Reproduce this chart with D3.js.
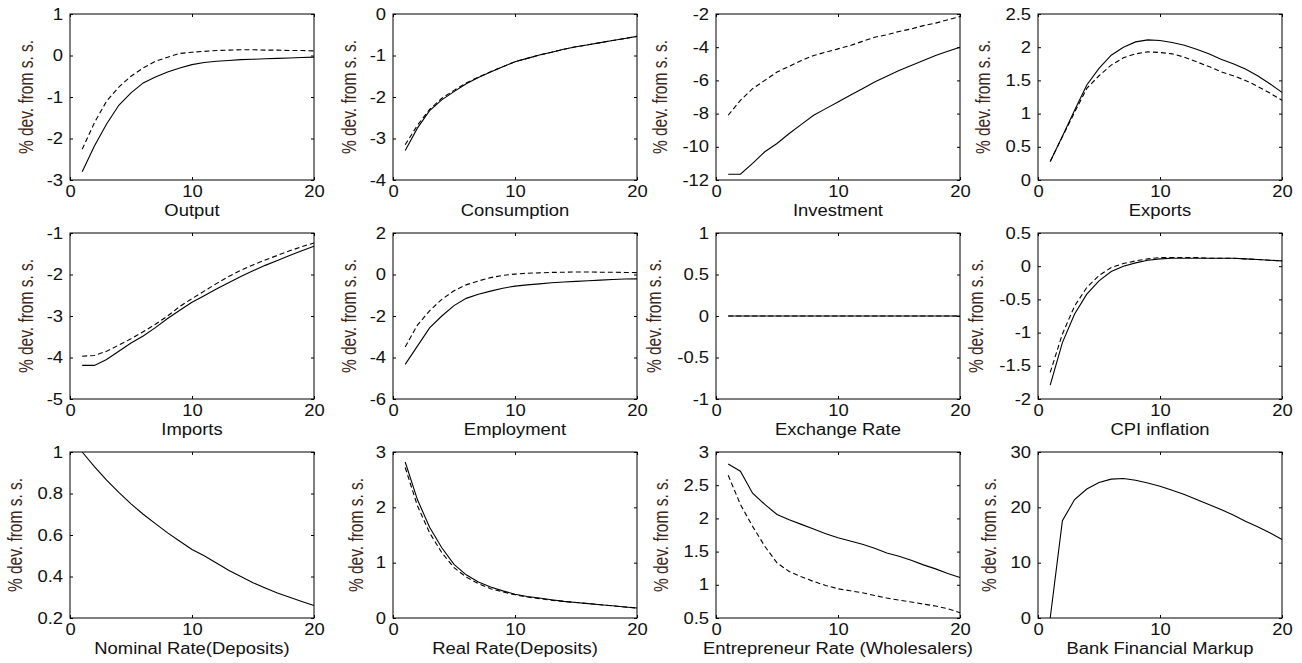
<!DOCTYPE html>
<html>
<head>
<meta charset="utf-8">
<script src="https://cdn.jsdelivr.net/npm/d3@7"></script>
<style>
  body { margin: 0; background: #fff; }
  svg { display: block; }
  text { font-family: "Liberation Sans", Arial, sans-serif; }
</style>
</head>
<body>
<div id="chart"></div>
<script>
const periods = [1, 2, 3, 4, 5, 6, 7, 8, 9, 10, 11, 12, 13, 14, 15, 16, 17, 18, 19, 20];
const xTicks = [0, 10, 20];
const yLabel = "% dev. from s. s.";

const outputSolid = [-2.8, -2.18, -1.65, -1.2, -0.9, -0.66, -0.52, -0.4, -0.3, -0.22, -0.17, -0.14, -0.12, -0.1, -0.09, -0.08, -0.07, -0.06, -0.05, -0.04];
const outputDashed = [-2.26, -1.62, -1.1, -0.76, -0.5, -0.3, -0.14, -0.04, 0.05, 0.08, 0.1, 0.12, 0.13, 0.14, 0.14, 0.13, 0.13, 0.12, 0.12, 0.11];
const outputTicks = [-3, -2, -1, 0, 1];

const consumptionSolid = [-3.29, -2.75, -2.33, -2.07, -1.87, -1.68, -1.53, -1.4, -1.27, -1.15, -1.07, -0.99, -0.92, -0.85, -0.79, -0.74, -0.69, -0.64, -0.59, -0.54];
const consumptionDashed = [-3.15, -2.68, -2.3, -2.03, -1.84, -1.66, -1.52, -1.39, -1.27, -1.15, -1.07, -0.99, -0.92, -0.85, -0.79, -0.74, -0.69, -0.64, -0.59, -0.54];
const consumptionTicks = [-4, -3, -2, -1, 0];

const investmentSolid = [-11.65, -11.65, -11.0, -10.3, -9.8, -9.2, -8.65, -8.1, -7.7, -7.3, -6.9, -6.5, -6.1, -5.75, -5.4, -5.1, -4.8, -4.5, -4.25, -4.0];
const investmentDashed = [-8.1, -7.2, -6.5, -6.0, -5.5, -5.15, -4.8, -4.5, -4.3, -4.1, -3.9, -3.65, -3.4, -3.25, -3.05, -2.9, -2.7, -2.55, -2.35, -2.15];
const investmentTicks = [-12, -10, -8, -6, -4, -2];

const exportsSolid = [0.28, 0.66, 1.05, 1.43, 1.68, 1.88, 2.0, 2.08, 2.11, 2.1, 2.07, 2.03, 1.97, 1.9, 1.82, 1.75, 1.67, 1.57, 1.45, 1.32];
const exportsDashed = [0.28, 0.65, 1.02, 1.38, 1.57, 1.73, 1.84, 1.9, 1.93, 1.92, 1.9, 1.85, 1.78, 1.71, 1.63, 1.57, 1.5, 1.41, 1.31, 1.2];
const exportsTicks = [0, 0.5, 1, 1.5, 2, 2.5];

const importsSolid = [-4.19, -4.19, -4.05, -3.85, -3.65, -3.48, -3.28, -3.06, -2.86, -2.67, -2.51, -2.35, -2.2, -2.05, -1.91, -1.78, -1.66, -1.54, -1.43, -1.32];
const importsDashed = [-3.97, -3.95, -3.85, -3.7, -3.55, -3.38, -3.2, -3.0, -2.77, -2.58, -2.4, -2.22, -2.05, -1.9, -1.77, -1.65, -1.54, -1.43, -1.33, -1.24];
const importsTicks = [-5, -4, -3, -2, -1];

const employmentSolid = [-4.33, -3.45, -2.57, -2.0, -1.5, -1.15, -0.95, -0.8, -0.66, -0.56, -0.5, -0.45, -0.4, -0.36, -0.33, -0.3, -0.27, -0.24, -0.22, -0.21];
const employmentDashed = [-3.49, -2.44, -1.75, -1.2, -0.78, -0.5, -0.31, -0.15, -0.04, 0.02, 0.06, 0.08, 0.1, 0.11, 0.12, 0.12, 0.11, 0.11, 0.1, 0.09];
const employmentTicks = [-6, -4, -2, 0, 2];

const exchangeSolid = [0, 0, 0, 0, 0, 0, 0, 0, 0, 0, 0, 0, 0, 0, 0, 0, 0, 0, 0, 0];
const exchangeDashed = [0, 0, 0, 0, 0, 0, 0, 0, 0, 0, 0, 0, 0, 0, 0, 0, 0, 0, 0, 0];
const exchangeTicks = [-1, -0.5, 0, 0.5, 1];

const cpiSolid = [-1.79, -1.15, -0.72, -0.42, -0.22, -0.08, 0.0, 0.05, 0.09, 0.11, 0.12, 0.12, 0.12, 0.12, 0.12, 0.12, 0.11, 0.1, 0.09, 0.08];
const cpiDashed = [-1.6, -1.02, -0.6, -0.32, -0.14, -0.02, 0.04, 0.08, 0.11, 0.13, 0.13, 0.13, 0.13, 0.12, 0.12, 0.12, 0.11, 0.1, 0.09, 0.08];
const cpiTicks = [-2, -1.5, -1, -0.5, 0, 0.5];

const nominalSolid = [1.0, 0.93, 0.865, 0.805, 0.75, 0.7, 0.655, 0.61, 0.57, 0.53, 0.5, 0.465, 0.43, 0.4, 0.37, 0.345, 0.32, 0.3, 0.28, 0.26];
const nominalTicks = [0.2, 0.4, 0.6, 0.8, 1];

const realSolid = [2.82, 2.14, 1.64, 1.27, 0.97, 0.78, 0.65, 0.56, 0.49, 0.43, 0.39, 0.36, 0.33, 0.3, 0.28, 0.26, 0.24, 0.22, 0.2, 0.18];
const realDashed = [2.72, 2.03, 1.54, 1.18, 0.91, 0.74, 0.62, 0.53, 0.47, 0.42, 0.38, 0.35, 0.32, 0.3, 0.28, 0.26, 0.24, 0.22, 0.2, 0.18];
const realTicks = [0, 1, 2, 3];

const entrepreneurSolid = [2.82, 2.71, 2.38, 2.21, 2.06, 1.98, 1.91, 1.84, 1.77, 1.71, 1.66, 1.61, 1.55, 1.48, 1.43, 1.37, 1.3, 1.24, 1.17, 1.11];
const entrepreneurDashed = [2.65, 2.21, 1.88, 1.58, 1.33, 1.2, 1.12, 1.05, 0.99, 0.94, 0.91, 0.88, 0.84, 0.8, 0.77, 0.74, 0.71, 0.68, 0.64, 0.58];
const entrepreneurTicks = [0.5, 1, 1.5, 2, 2.5, 3];

const markupSolid = [0, 17.6, 21.4, 23.3, 24.5, 25.1, 25.2, 24.9, 24.4, 23.8, 23.1, 22.3, 21.4, 20.5, 19.6, 18.6, 17.5, 16.5, 15.4, 14.2];
const markupTicks = [0, 10, 20, 30];

const panels = [
    {title: "Output", solid: outputSolid, dashed: outputDashed, ticks: outputTicks},
    {title: "Consumption", solid: consumptionSolid, dashed: consumptionDashed, ticks: consumptionTicks},
    {title: "Investment", solid: investmentSolid, dashed: investmentDashed, ticks: investmentTicks},
    {title: "Exports", solid: exportsSolid, dashed: exportsDashed, ticks: exportsTicks},
    {title: "Imports", solid: importsSolid, dashed: importsDashed, ticks: importsTicks},
    {title: "Employment", solid: employmentSolid, dashed: employmentDashed, ticks: employmentTicks},
    {title: "Exchange Rate", solid: exchangeSolid, dashed: exchangeDashed, ticks: exchangeTicks},
    {title: "CPI inflation", solid: cpiSolid, dashed: cpiDashed, ticks: cpiTicks},
    {title: "Nominal Rate(Deposits)", solid: nominalSolid, dashed: null, ticks: nominalTicks},
    {title: "Real Rate(Deposits)", solid: realSolid, dashed: realDashed, ticks: realTicks},
    {title: "Entrepreneur Rate (Wholesalers)", solid: entrepreneurSolid, dashed: entrepreneurDashed, ticks: entrepreneurTicks},
    {title: "Bank Financial Markup", solid: markupSolid, dashed: null, ticks: markupTicks}
];

// layout of the 3x4 grid (pixel boxes of each axes)
const colLeft = [70, 393, 716, 1038];
const rowTop = [14, 233, 452];
const boxW = 244;
const boxH = 166;
const stretch = 1.15;   // text in the picture is drawn a bit wide

const svg = d3.select("#chart")
    .append("svg")
    .attr("width", 1302)
    .attr("height", 663);

function widen(sel) {
    sel.each(function() {
        let w = this.getComputedTextLength();
        d3.select(this)
            .attr("textLength", w * stretch)
            .attr("lengthAdjust", "spacingAndGlyphs");
    });
}

panels.forEach((p, i) => {
    let left = colLeft[i % 4];
    let top = rowTop[Math.floor(i / 4)];
    let g = svg.append("g").attr("transform", "translate(" + left + "," + top + ")");

    let x = d3.scaleLinear().domain([0, 20]).range([0, boxW]);
    let y = d3.scaleLinear().domain(d3.extent(p.ticks)).range([boxH, 0]);
    let fmt = d => String(d);

    let line = d3.line()
        .x((d, k) => x(periods[k]))
        .y(d => y(d));

    if (p.dashed) {
        g.append("path")
            .datum(p.dashed)
            .attr("d", line)
            .attr("fill", "none")
            .attr("stroke", "#000")
            .attr("stroke-width", 1.1)
            .attr("stroke-dasharray", "5,3");
    }
    g.append("path")
        .datum(p.solid)
        .attr("d", line)
        .attr("fill", "none")
        .attr("stroke", "#000")
        .attr("stroke-width", 1.1);

    let xb = g.append("g").attr("transform", "translate(0," + boxH + ")")
        .call(d3.axisBottom(x).tickValues(xTicks).tickSize(-3).tickPadding(6).tickFormat(fmt));
    g.append("g")
        .call(d3.axisTop(x).tickValues(xTicks).tickSize(-3).tickFormat(""));
    let yl = g.append("g")
        .call(d3.axisLeft(y).tickValues(p.ticks).tickSize(-3).tickPadding(7).tickFormat(fmt));
    g.append("g").attr("transform", "translate(" + boxW + ",0)")
        .call(d3.axisRight(y).tickValues(p.ticks).tickSize(-3).tickFormat(""));

    g.selectAll(".domain").remove();
    g.selectAll(".tick line").attr("stroke", "#000");
    g.selectAll(".tick text")
        .attr("fill", "#111")
        .style("font-size", "16px");
    widen(xb.selectAll("text"));
    widen(yl.selectAll("text"));

    g.append("rect")
        .attr("width", boxW)
        .attr("height", boxH)
        .attr("fill", "none")
        .attr("stroke", "#000")
        .attr("stroke-width", 1);

    let maxW = d3.max(yl.selectAll("text").nodes(), n => n.getComputedTextLength() * stretch);

    g.append("text")
        .attr("transform", "translate(" + (-7 - maxW - 18) + "," + (boxH / 2) + ") scale(1.25,1) rotate(-90)")
        .attr("text-anchor", "middle")
        .attr("dy", "0.35em")
        .attr("fill", "#3d2518")
        .style("font-size", "15.5px")
        .text(yLabel);

    let xt = g.append("text")
        .attr("x", boxW / 2)
        .attr("y", boxH + 36)
        .attr("text-anchor", "middle")
        .attr("fill", "#111")
        .style("font-size", "16px")
        .text(p.title);
    widen(xt);
});
</script>
</body>
</html>
